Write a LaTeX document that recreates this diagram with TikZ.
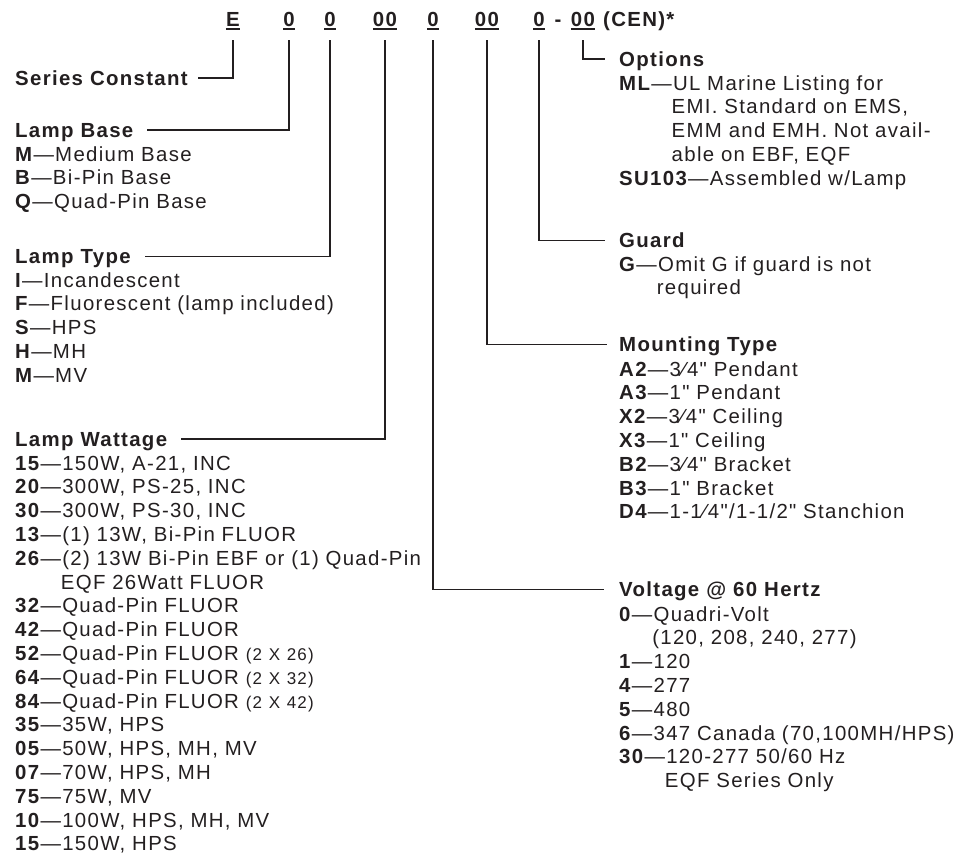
\documentclass[tikz,border=0pt]{standalone}
\usepackage{fontspec}
\setmainfont{Liberation Sans}[LetterSpace=6.5, Ligatures=TeXOff]
\definecolor{ink}{HTML}{231F20}
\newcommand\bodyfont{\fontsize{20.4}{23.8}\selectfont}
\newcommand\skipkey[1]{\phantom{\textbf{#1}—}}
\newcommand\smallpart[1]{{\fontsize{17}{23.8}\selectfont #1}}
\tikzset{
  title/.style={anchor=base west, inner sep=0pt, text height=14pt, text depth=0pt, font=\bodyfont\bfseries},
  items/.style={anchor=base west, inner sep=0pt, align=left, font=\bodyfont},
  digit/.style={anchor=base, inner sep=0pt, font=\bodyfont\bfseries},
  lead/.style={line width=1.2pt, draw=ink},
}

\begin{document}
\begin{tikzpicture}[x=1pt, y=-1pt, text=ink]
\useasboundingbox (0,0) rectangle (967,855);

\node[digit] (hE) at (233,26.5) {E};
\node[digit] (hB) at (289,26.5) {0};
\node[digit] (hT) at (330,26.5) {0};
\node[digit] (hW) at (385,26.5) {00};
\node[digit] (hV) at (433,26.5) {0};
\node[digit] (hM) at (487,26.5) {00};
\node[digit] (hG) at (539,26.5) {0};
\node[digit] (hDash) at (558,26.5) {-};
\node[digit] (hO) at (583,26.5) {00};
\node[digit, anchor=base west] (hCen) at (603,26.5) {(CEN)*};
\foreach \n in {hE,hB,hT,hW,hV,hM,hG,hO}
  \draw[lead] ([yshift=-2.5]\n.base west) -- ([yshift=-2.5]\n.base east);

\node[title] (tSer) at (15,85) {Series Constant};

\node[title] (tBase) at (15,137) {Lamp Base};
\node[items, text width=440pt] (lBase) at (15,161) {%
\textbf{M}—Medium Base\\
\textbf{B}—Bi-Pin Base\\
\textbf{Q}—Quad-Pin Base};

\node[title] (tType) at (15,263.3) {Lamp Type};
\node[items, text width=440pt] (lType) at (15,287) {%
\textbf{I}—Incandescent\\
\textbf{F}—Fluorescent (lamp included)\\
\textbf{S}—HPS\\
\textbf{H}—MH\\
\textbf{M}—MV};

\node[title] (tWatt) at (15,446) {Lamp Wattage};
\node[items, text width=440pt] (lWatt) at (15,470) {%
\textbf{15}—150W, A-21, INC\\
\textbf{20}—300W, PS-25, INC\\
\textbf{30}—300W, PS-30, INC\\
\textbf{13}—(1) 13W, Bi-Pin FLUOR\\
\textbf{26}—(2) 13W Bi-Pin EBF or (1) Quad-Pin\\
\skipkey{26}EQF 26Watt FLUOR\\
\textbf{32}—Quad-Pin FLUOR\\
\textbf{42}—Quad-Pin FLUOR\\
\textbf{52}—Quad-Pin FLUOR \smallpart{(2 X 26)}\\
\textbf{64}—Quad-Pin FLUOR \smallpart{(2 X 32)}\\
\textbf{84}—Quad-Pin FLUOR \smallpart{(2 X 42)}\\
\textbf{35}—35W, HPS\\
\textbf{05}—50W, HPS, MH, MV\\
\textbf{07}—70W, HPS, MH\\
\textbf{75}—75W, MV\\
\textbf{10}—100W, HPS, MH, MV\\
\textbf{15}—150W, HPS};

\node[title] (tOpt) at (619,66) {Options};
\node[items, text width=345pt] (lOpt) at (619,90) {%
\textbf{ML}—UL Marine Listing for\\
\skipkey{ML}EMI. Standard on EMS,\\
\skipkey{ML}EMM and EMH. Not avail-\\
\skipkey{ML}able on EBF, EQF\\
\textbf{SU103}—Assembled w/Lamp};

\node[title] (tGuard) at (619,247.3) {Guard};
\node[items, text width=345pt] (lGuard) at (619,271) {%
\textbf{G}—Omit G if guard is not\\
\skipkey{G}required};

\node[title] (tMount) at (619,351.7) {Mounting Type};
\node[items, text width=345pt] (lMount) at (619,376) {%
\textbf{A2}—3⁄4" Pendant\\
\textbf{A3}—1" Pendant\\
\textbf{X2}—3⁄4" Ceiling\\
\textbf{X3}—1" Ceiling\\
\textbf{B2}—3⁄4" Bracket\\
\textbf{B3}—1" Bracket\\
\textbf{D4}—1-1⁄4"/1-1/2" Stanchion};

\node[title] (tVolt) at (619,596.7) {Voltage @ 60 Hertz};
\node[items, text width=345pt] (lVolt) at (619,621) {%
\textbf{0}—Quadri-Volt\\
\skipkey{0}(120, 208, 240, 277)\\
\textbf{1}—120\\
\textbf{4}—277\\
\textbf{5}—480\\
\textbf{6}—347 Canada (70,100MH/HPS)\\
\textbf{30}—120-277 50/60 Hz\\
\skipkey{30}EQF Series Only};

\coordinate (top) at (0,40);
\draw[lead] (hE |- top) |- ([xshift=10]tSer.east);
\draw[lead] (hB |- top) |- ([xshift=13]tBase.east);
\draw[lead] (hT |- top) |- ([xshift=14]tType.east);
\draw[lead] (hW |- top) |- ([xshift=14]tWatt.east);
\draw[lead] (hV |- top) |- ([xshift=-15]tVolt.west);
\draw[lead] (hM |- top) |- ([xshift=-12]tMount.west);
\draw[lead] (hG |- top) |- ([xshift=-14]tGuard.west);
\draw[lead] (hO |- top) |- ([xshift=-14]tOpt.west);
\end{tikzpicture}
\end{document}
